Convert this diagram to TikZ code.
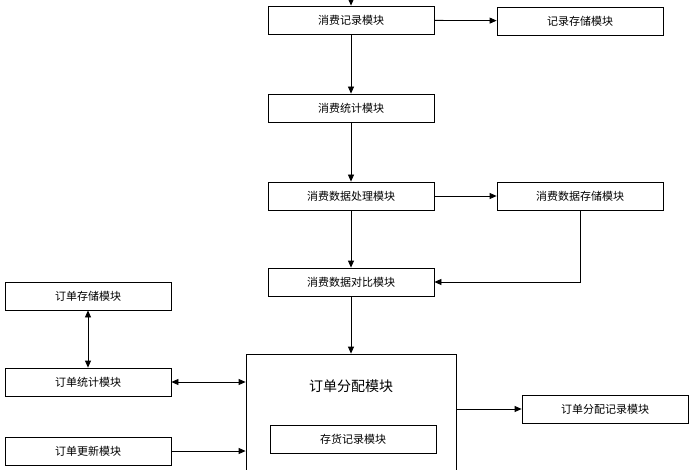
\documentclass[tikz,border=0pt]{standalone}
\usepackage{fontspec}
\setmainfont{Noto Sans CJK SC}
\usetikzlibrary{arrows.meta}
\begin{document}
\begin{tikzpicture}[x=1pt, y=-1pt, thick, >={Triangle[length=7pt,width=6pt]},
  box/.style = {draw, minimum width=166pt, minimum height=28pt, inner sep=0pt, font=\fontsize{11}{12}\selectfont}]
  \useasboundingbox (0,0) rectangle (700,470);
  \coordinate (in) at (351,0);
  \node[box] (rec) at (351,20) {消费记录模块};
  \node[box] (recs) at (580,21) {记录存储模块};
  \node[box] (stat) at (351,108) {消费统计模块};
  \node[box] (proc) at (351,196) {消费数据处理模块};
  \node[box] (procs) at (580,196) {消费数据存储模块};
  \node[box] (cmp) at (351,282) {消费数据对比模块};
  \node[box] (ost) at (88,296) {订单存储模块};
  \node[box] (ocnt) at (88,382) {订单统计模块};
  \node[box] (oupd) at (88,451) {订单更新模块};
  \node[draw, minimum width=210pt, minimum height=130pt, inner sep=0pt] (alloc) at (351,419) {};
  \node[font=\fontsize{14}{16}\selectfont] (alloct) at (351,386) {订单分配模块};
  \node[box] (stock) at (353,439) {存货记录模块};
  \node[box] (arec) at (605,409) {订单分配记录模块};
  \draw[->] (in) -- (rec);
  \draw[->] (rec) -- (recs);
  \draw[->] (rec) -- (stat);
  \draw[->] (stat) -- (proc);
  \draw[->] (proc) -- (procs);
  \draw[->] (proc) -- (cmp);
  \draw[->] (procs.south) |- (cmp.east);
  \draw[->] (cmp) -- (alloc.north);
  \draw[<->] (ost) -- (ocnt);
  \draw[<->] (ocnt.east) -- (ocnt.east -| alloc.west);
  \draw[->] (oupd.east) -- (oupd.east -| alloc.west);
  \draw[->] (alloc.east |- arec.west) -- (arec.west);
\end{tikzpicture}
\end{document}
